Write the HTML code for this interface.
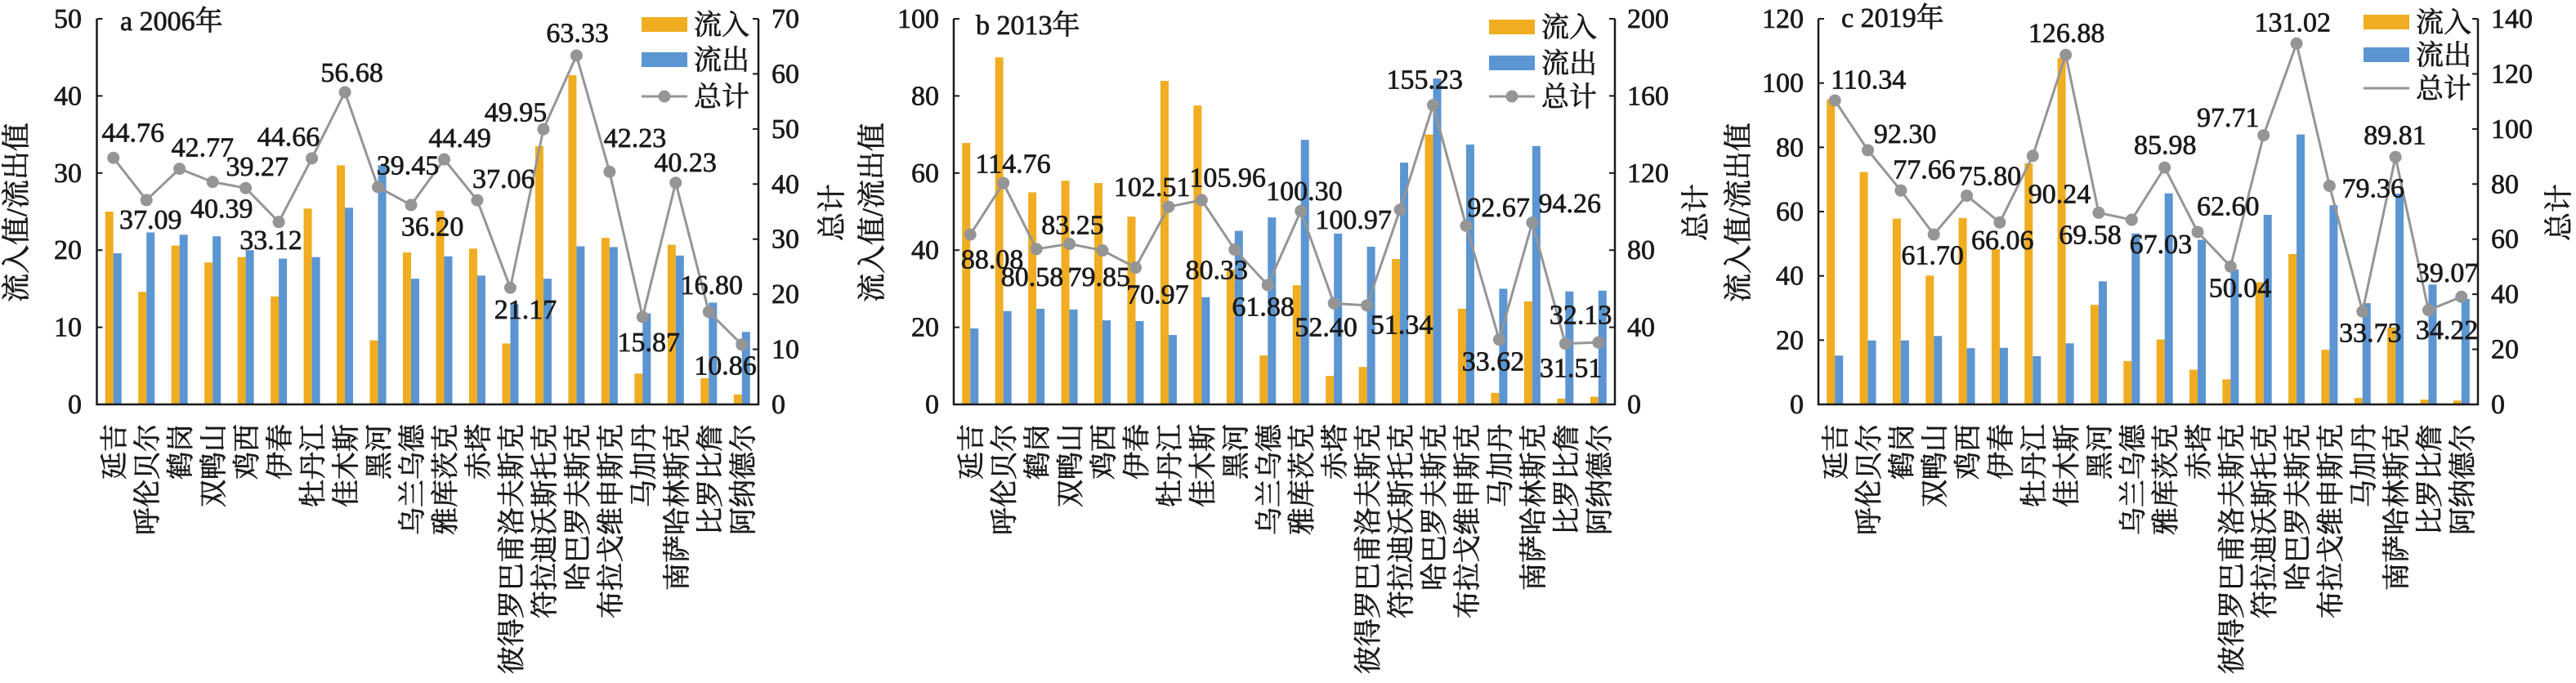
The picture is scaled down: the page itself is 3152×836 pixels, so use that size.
<!DOCTYPE html>
<html><head><meta charset="utf-8">
<style>
html,body{margin:0;padding:0;background:#fff;}
svg text{font-family:"Liberation Serif","Noto Serif CJK SC",serif;fill:#1a1a1a;stroke:#1a1a1a;stroke-width:0.7px;}
</style></head>
<body>
<svg id="s" xmlns="http://www.w3.org/2000/svg" width="3152" height="831" viewBox="0 0 3152 831"></svg>
<script>
const S=document.getElementById('s');
let h='';
const cats=["延吉","呼伦贝尔","鹤岗","双鸭山","鸡西","伊春","牡丹江","佳木斯","黑河","乌兰乌德","雅库茨克","赤塔","彼得罗巴甫洛夫斯克","符拉迪沃斯托克","哈巴罗夫斯克","布拉戈维申斯克","马加丹","南萨哈林斯克","比罗比詹","阿纳德尔"];
const OR="#F0AD22",BL="#5B95D2",GR="#959595";
const panels=[
{off:0,x0:118.5,x1:928,lmax:50,lstep:10,rmax:70,rstep:10,title:"a 2006年",tx:147,ty:37,
 tickR:100,tickL:944,ytx:20,rtx:1018,lg:{rx:785,tx:849,y:[30,73,118],marker:true},
 O:[25,14.6,20.6,18.4,19.1,14,25.4,31,8.3,19.7,25.1,20.2,7.9,33.5,42.7,21.6,4,20.7,3.4,1.3],
 B:[19.6,22.3,22,21.8,20,18.9,19.1,25.5,31,16.3,19.2,16.7,13,16.3,20.5,20.4,11.8,19.3,13.2,9.4],
 T:[44.76,37.09,42.77,40.39,39.27,33.12,44.66,56.68,39.45,36.20,44.49,37.06,21.17,49.95,63.33,42.23,15.87,40.23,16.80,10.86],
 L:[[243,520],[275,840],[370,575],[405,800],[470,645],[495,915],[527,535],[643,300],[745,640],[790,865],[840,540],[920,690],[960,1170],[942,445],[1055,155],[1160,540],[1185,1290],[1252,630],[1300,1080],[1325,1375]]},
{off:1050,x0:1167,x1:1976,lmax:100,lstep:20,rmax:200,rstep:40,title:"b 2013年",tx:1194,ty:42,
 tickR:1149,tickL:1991,ytx:1067,rtx:2075,lg:{rx:1822,tx:1886,y:[33,77,118],marker:true},
 O:[67.8,90,55,58,57.4,48.7,83.9,77.5,35,12.7,30.9,7.4,9.7,37.7,70,24.8,3,26.7,1.5,2],
 B:[19.7,24.2,24.8,24.6,21.8,21.6,18,27.8,45,48.5,68.6,44.3,40.9,62.7,84.5,67.4,30,67,29.3,29.5],
 T:[88.08,114.76,80.58,83.25,79.85,70.97,102.51,105.96,80.33,61.88,100.30,52.40,51.34,100.97,155.23,92.67,33.62,94.26,31.51,32.13],
 L:[[245,985],[283,635],[318,1050],[392,860],[440,1050],[547,1115],[537,720],[675,685],[655,1025],[740,1160],[815,735],[855,1235],[993,1225],[905,840],[1035,325],[1170,795],[1160,1360],[1300,780],[1302,1385],[1320,1190]]},
{off:2100,x0:2225,x1:3032,lmax:120,lstep:20,rmax:140,rstep:20,title:"c 2019年",tx:2253,ty:33,
 tickR:2207,tickL:3048,ytx:2127,rtx:3131,lg:{rx:2892,tx:2956,y:[27,67,108],marker:false},
 O:[94.9,72.3,57.8,40.1,58,48.3,75,107.8,31,13.5,20.2,10.8,7.8,38,46.8,17,2,24,1.5,1.2],
 B:[15.2,19.9,19.9,21.3,17.5,17.6,15,19,38.3,53.2,65.7,51.2,42,59,84,62,31.5,65.6,37.3,32.8],
 T:[110.34,92.30,77.66,61.70,75.80,66.06,90.24,126.88,69.58,67.03,85.98,62.60,50.04,97.71,131.02,79.36,33.73,89.81,34.22,39.07],
 L:[[278,325],[345,525],[380,655],[395,970],[500,680],[523,915],[627,745],[640,155],[683,895],[812,930],[820,565],[935,790],[957,1090],[935,465],[1053,115],[1200,725],[1195,1255],[1240,530],[1335,1245],[1335,1035]]}
];
const Y0=495,YT=23,H=Y0-YT;
panels.forEach(p=>{
  const cw=(p.x1-p.x0)/20;
  const yl=v=>Y0-v/p.lmax*H, yr=v=>Y0-v/p.rmax*H;
  for(let i=0;i<20;i++){
    const c=p.x0+cw*(i+0.5);
    h+=`<rect x="${c-10}" y="${yl(p.O[i])}" width="10" height="${Y0-yl(p.O[i])}" fill="${OR}"/>`;
    h+=`<rect x="${c}" y="${yl(p.B[i])}" width="10" height="${Y0-yl(p.B[i])}" fill="${BL}"/>`;
    h+=`<text transform="translate(${c+13},519) rotate(-90)" text-anchor="end" font-size="34">${cats[i]}</text>`;
  }
  h+=`<path d="M${p.x0},${YT}V${Y0}H${p.x1}V${YT}" fill="none" stroke="#1a1a1a" stroke-width="2.5"/>`;
  for(let v=0;v<=p.lmax;v+=p.lstep){const y=yl(v);
    h+=`<line x1="${p.x0}" x2="${p.x0+7}" y1="${y}" y2="${y}" stroke="#1a1a1a" stroke-width="2"/>`;
    h+=`<text x="${p.tickR}" y="${y+11}" text-anchor="end" font-size="34">${v}</text>`;}
  for(let v=0;v<=p.rmax;v+=p.rstep){const y=yr(v);
    h+=`<line x1="${p.x1-7}" x2="${p.x1}" y1="${y}" y2="${y}" stroke="#1a1a1a" stroke-width="2"/>`;
    h+=`<text x="${p.tickL}" y="${y+11}" font-size="34">${v}</text>`;}
  let d='';
  for(let i=0;i<20;i++){const c=p.x0+cw*(i+0.5);d+=(i?'L':'M')+c+','+yr(p.T[i]);}
  h+=`<path d="${d}" fill="none" stroke="${GR}" stroke-width="3"/>`;
  for(let i=0;i<20;i++){const c=p.x0+cw*(i+0.5);h+=`<circle cx="${c}" cy="${yr(p.T[i])}" r="7.5" fill="${GR}"/>`;}
  for(let i=0;i<20;i++){const [lx,ly]=p.L[i];
    h+=`<text x="${p.off+lx/1.493}" y="${ly/3}" text-anchor="middle" font-size="34">${p.T[i].toFixed(2)}</text>`;}
  h+=`<text x="${p.tx}" y="${p.ty}" font-size="34">${p.title}</text>`;
  h+=`<text transform="translate(${p.ytx+12},260) rotate(-90)" text-anchor="middle" font-size="35">流入值/流出值</text>`;
  h+=`<text transform="translate(${p.rtx+12},260) rotate(-90)" text-anchor="middle" font-size="35">总计</text>`;
  const g=p.lg;
  h+=`<rect x="${g.rx}" y="${g.y[0]-9}" width="56" height="18" fill="${OR}"/>`;
  h+=`<rect x="${g.rx}" y="${g.y[1]-9}" width="56" height="18" fill="${BL}"/>`;
  h+=`<line x1="${g.rx}" x2="${g.rx+56}" y1="${g.y[2]}" y2="${g.y[2]}" stroke="${GR}" stroke-width="3"/>`;
  if(g.marker)h+=`<circle cx="${g.rx+28}" cy="${g.y[2]}" r="7.5" fill="${GR}"/>`;
  ["流入","流出","总计"].forEach((t,k)=>{h+=`<text x="${g.tx}" y="${g.y[k]+12}" font-size="34">${t}</text>`;});
});
S.innerHTML=h;
</script>
</body></html>
